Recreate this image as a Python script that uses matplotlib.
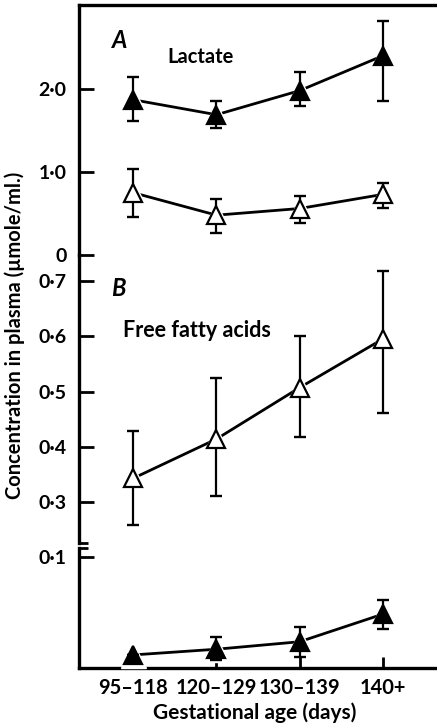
import numpy as np
import matplotlib
matplotlib.use("Agg")
import matplotlib.pyplot as plt

plt.rcParams['font.family'] = ['Lato', 'DejaVu Sans']

# ---------------- data ----------------
categories = ["95\u2013118", "120\u2013129", "130\u2013139", "140+"]

# Panel A: lactate (filled and open triangles)
lact_filled = [1.87, 1.69, 1.98, 2.40]
lact_filled_lo = [1.61, 1.53, 1.80, 1.86]
lact_filled_hi = [2.15, 1.85, 2.21, 2.82]

lact_open = [0.75, 0.48, 0.56, 0.73]
lact_open_lo = [0.46, 0.26, 0.39, 0.57]
lact_open_hi = [1.04, 0.68, 0.71, 0.87]

# Panel B: free fatty acids (open, upper scale; filled, lower scale)
ffa_open = [0.343, 0.414, 0.507, 0.595]
ffa_open_lo = [0.258, 0.310, 0.417, 0.462]
ffa_open_hi = [0.429, 0.525, 0.601, 0.719]

ffa_filled = [0.012, 0.0171, 0.0238, 0.0485]
ffa_filled_lo = [0.012, 0.0074, 0.0099, 0.0349]
ffa_filled_hi = [0.012, 0.0283, 0.0367, 0.0612]

yticks_A = [0.0, 1.0, 2.0]
yticklabels_A = ["0", "1\u00b70", "2\u00b70"]
yticks_B = [0.3, 0.4, 0.5, 0.6, 0.7]
yticklabels_B = ["0\u00b73", "0\u00b74", "0\u00b75", "0\u00b76", "0\u00b77"]
yticks_C = [0.1]
yticklabels_C = ["0\u00b71"]

# ---------------- figure ----------------
W, H = 437, 726
fig = plt.figure(figsize=(W / 100, H / 100), dpi=100)

def frac_rect(x0, y_top, x1, y_bot):
    return [x0 / W, 1 - y_bot / H, (x1 - x0) / W, (y_bot - y_top) / H]

axA = fig.add_axes(frac_rect(79, 5, 437, 255))
axB = fig.add_axes(frac_rect(79, 255, 437, 543))
axC = fig.add_axes(frac_rect(79, 548, 437, 668.3))

xlim = (-0.654, 3.653)
SPW = 2.4
TICKFS = 14

for ax in (axA, axB, axC):
    ax.set_xlim(*xlim)
    ax.set_facecolor('none')
    for s in ax.spines.values():
        s.set_visible(False)
        s.set_linewidth(SPW)
    ax.spines['left'].set_visible(True)
    ax.tick_params(axis='y', direction='in', length=11, width=2.0, pad=9,
                   labelsize=TICKFS)
    ax.tick_params(axis='x', bottom=False, labelbottom=False)

axA.spines['top'].set_visible(True)
axC.spines['bottom'].set_visible(True)

axA.set_ylim(0, 3.012)
axB.set_ylim(0.2258, 0.7471)
axC.set_ylim(0, 0.1078)

axA.set_yticks(yticks_A, yticklabels_A, fontweight='bold')
axB.set_yticks(yticks_B, yticklabels_B, fontweight='bold')
axC.set_yticks(yticks_C, yticklabels_C, fontweight='bold')

x = np.arange(len(categories))
axC.set_xticks(x, categories, fontweight='bold')
axC.tick_params(axis='x', bottom=True, labelbottom=True, direction='in',
                length=8, width=2.0, pad=7, labelsize=14.5)

# break marks on the axis
axB.plot([0, 0.025], [0, 0], transform=axB.transAxes, color='black',
         lw=2.0, clip_on=False, solid_capstyle='butt')
axC.plot([0, 0.025], [1, 1], transform=axC.transAxes, color='black',
         lw=2.0, clip_on=False, solid_capstyle='butt')


def draw(ax, mean, lo, hi, filled):
    mean = np.asarray(mean)
    yerr = [mean - np.asarray(lo), np.asarray(hi) - mean]
    ax.plot(x, mean, color='black', lw=2.0, zorder=2, clip_on=False)
    ax.plot(x, mean, ls='none', marker='^', ms=18, mfc='white', mec='white',
            zorder=3, clip_on=False)
    ax.errorbar(x, mean, yerr=yerr, fmt='none', ecolor='black', elinewidth=1.6,
                capsize=4.5, capthick=1.7, zorder=4, clip_on=False)
    ax.plot(x, mean, ls='none', marker='^', ms=13,
            mfc='black' if filled else 'white', mec='black', mew=1.6,
            zorder=5, clip_on=False)


draw(axA, lact_filled, lact_filled_lo, lact_filled_hi, True)
draw(axA, lact_open, lact_open_lo, lact_open_hi, False)
draw(axB, ffa_open, ffa_open_lo, ffa_open_hi, False)
draw(axC, ffa_filled, ffa_filled_lo, ffa_filled_hi, True)

# texts
fig.text(112 / W, 1 - 40 / H, "A", fontsize=17, fontstyle='italic',
         fontweight='bold', va='center', ha='left')
fig.text(167 / W, 1 - 57 / H, "Lactate", fontsize=14.5, fontweight='bold',
         va='center', ha='left')
fig.text(111 / W, 1 - 288 / H, "B", fontsize=17, fontstyle='italic',
         fontweight='bold', va='center', ha='left')
fig.text(123 / W, 1 - 330 / H, "Free fatty acids", fontsize=15.5,
         fontweight='bold', va='center', ha='left')
fig.text(15 / W, 1 - 335 / H, "Concentration in plasma (\u00b5mole/ml.)",
         fontsize=14.5, fontweight='bold', rotation=90,
         va='center', ha='center')
fig.text(255 / W, 1 - 713 / H, "Gestational age (days)", fontsize=15,
         fontweight='bold', va='center', ha='center')

fig.savefig("out.png", dpi=100)
